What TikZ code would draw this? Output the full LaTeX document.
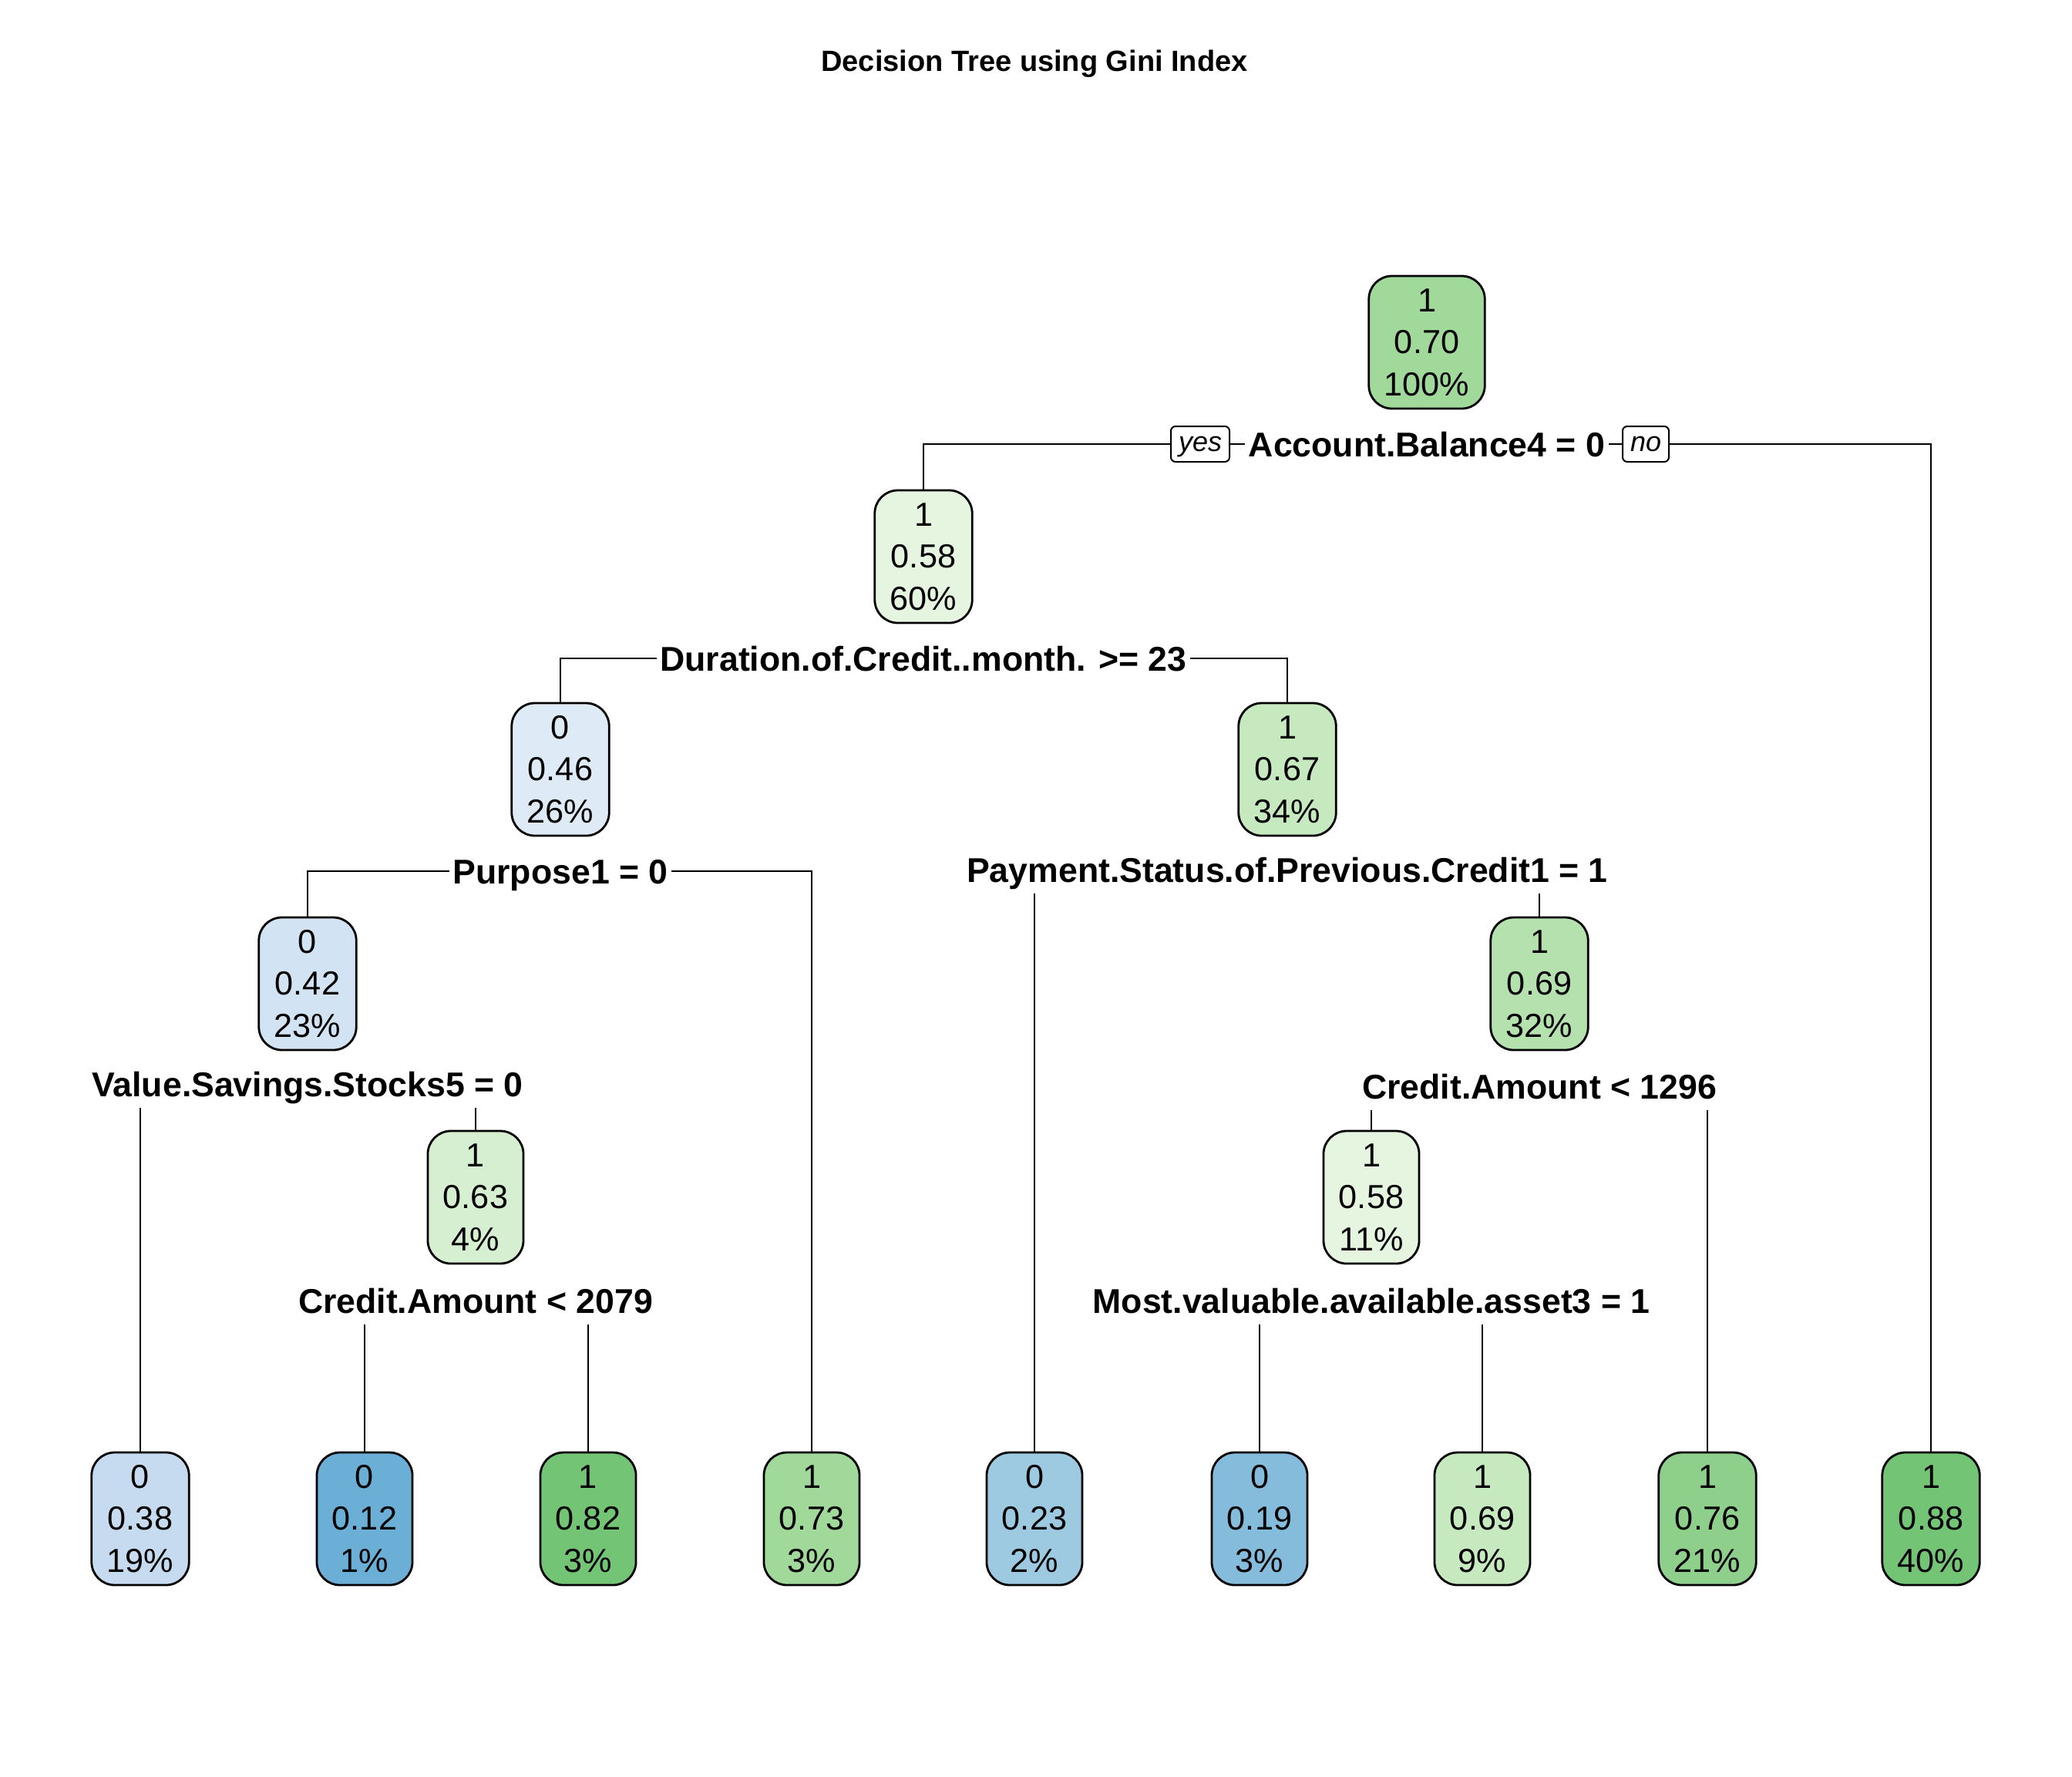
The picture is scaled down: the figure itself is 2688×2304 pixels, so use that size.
\documentclass[tikz,border=0pt]{standalone}
\usepackage{fontspec}
\setmainfont{Liberation Sans}
\definecolor{cA}{HTML}{A1D99B}
\definecolor{cB}{HTML}{E5F5E0}
\definecolor{cC}{HTML}{DEEBF7}
\definecolor{cD}{HTML}{C7E9C0}
\definecolor{cE}{HTML}{D2E3F3}
\definecolor{cF}{HTML}{B5E1AE}
\definecolor{cG}{HTML}{D7EFD1}
\definecolor{cH}{HTML}{C6DBEF}
\definecolor{cI}{HTML}{6BAED6}
\definecolor{cJ}{HTML}{74C476}
\definecolor{cK}{HTML}{9ECAE1}
\definecolor{cL}{HTML}{85BCDC}
\definecolor{cM}{HTML}{8ED08B}
\tikzset{
  box/.style={draw, line width=0.7pt, rounded corners=7.5pt, align=center,
    inner xsep=5pt, inner ysep=0pt, minimum height=43pt,
    font=\fontsize{10.8}{13.6}\selectfont},
  splitlab/.style={inner xsep=1pt, inner ysep=0pt, text height=8pt, text depth=0pt,
    minimum height=15pt, font=\bfseries\fontsize{11.15}{13}\selectfont},
  yn/.style={draw, line width=0.5pt, rounded corners=1.5pt, inner xsep=2.5pt, inner ysep=0pt,
    text height=6.5pt, text depth=1.8pt, minimum height=11.5pt,
    font=\itshape\fontsize{9}{10}\selectfont},
  conn/.style={line width=0.5pt}
}
\begin{document}
\begin{tikzpicture}[x=0.25pt, y=-0.25pt]
\useasboundingbox[fill=white] (0,0) rectangle (2688,2304);
\node[font=\bfseries\fontsize{9.5}{11}\selectfont] (title) at (1342,83) {Decision Tree using Gini Index};

% inner nodes
\node[box, fill=cA] (n1) at (1851,444) {1\\0.70\\100\%};
\node[box, fill=cB] (n2) at (1198,722) {1\\0.58\\60\%};
\node[box, fill=cC] (n3) at (727,998) {0\\0.46\\26\%};
\node[box, fill=cD] (n4) at (1670,998) {1\\0.67\\34\%};
\node[box, fill=cE] (n5) at (399,1276) {0\\0.42\\23\%};
\node[box, fill=cF] (n6) at (1997,1276) {1\\0.69\\32\%};
\node[box, fill=cG] (n7) at (617,1553) {1\\0.63\\4\%};
\node[box, fill=cB] (n8) at (1779,1553) {1\\0.58\\11\%};

% leaves
\node[box, fill=cH] (l1) at (182,1970) {0\\0.38\\19\%};
\node[box, fill=cI] (l2) at (473,1970) {0\\0.12\\1\%};
\node[box, fill=cJ] (l3) at (763,1970) {1\\0.82\\3\%};
\node[box, fill=cA] (l4) at (1053,1970) {1\\0.73\\3\%};
\node[box, fill=cK] (l5) at (1342,1970) {0\\0.23\\2\%};
\node[box, fill=cL] (l6) at (1634,1970) {0\\0.19\\3\%};
\node[box, fill=cD] (l7) at (1923,1970) {1\\0.69\\9\%};
\node[box, fill=cM] (l8) at (2215,1970) {1\\0.76\\21\%};
\node[box, fill=cJ] (l9) at (2505,1970) {1\\0.88\\40\%};

% split labels
\node[splitlab] (s1) at (1851,576) {Account.Balance4 = 0};
\node[yn] (yes) at (1557,576) {yes};
\node[yn] (no) at (2135,576) {no};
\node[splitlab] (s2) at (1198,854) {Duration.of.Credit..month. >= 23};
\node[splitlab] (s3) at (727,1130) {Purpose1 = 0};
\node[splitlab] (s4) at (1670,1128) {Payment.Status.of.Previous.Credit1 = 1};
\node[splitlab] (s5) at (399,1406) {Value.Savings.Stocks5 = 0};
\node[splitlab] (s6) at (1997,1409) {Credit.Amount < 1296};
\node[splitlab] (s7) at (617,1687) {Credit.Amount < 2079};
\node[splitlab] (s8) at (1779,1687) {Most.valuable.available.asset3 = 1};

% connectors
\draw[conn] (yes.west) -| (n2.north);
\draw[conn] (yes.east) -- (s1.west);
\draw[conn] (s1.east) -- (no.west);
\draw[conn] (no.east) -| (l9.north);
\draw[conn] (s2.west) -| (n3.north);
\draw[conn] (s2.east) -| (n4.north);
\draw[conn] (s3.west) -| (n5.north);
\draw[conn] (s3.east) -| (l4.north);
\draw[conn] (s4.south -| l5.north) -- (l5.north);
\draw[conn] (s4.south -| n6.north) -- (n6.north);
\draw[conn] (s5.south -| l1.north) -- (l1.north);
\draw[conn] (s5.south -| n7.north) -- (n7.north);
\draw[conn] (s6.south -| n8.north) -- (n8.north);
\draw[conn] (s6.south -| l8.north) -- (l8.north);
\draw[conn] (s7.south -| l2.north) -- (l2.north);
\draw[conn] (s7.south -| l3.north) -- (l3.north);
\draw[conn] (s8.south -| l6.north) -- (l6.north);
\draw[conn] (s8.south -| l7.north) -- (l7.north);
\end{tikzpicture}
\end{document}
